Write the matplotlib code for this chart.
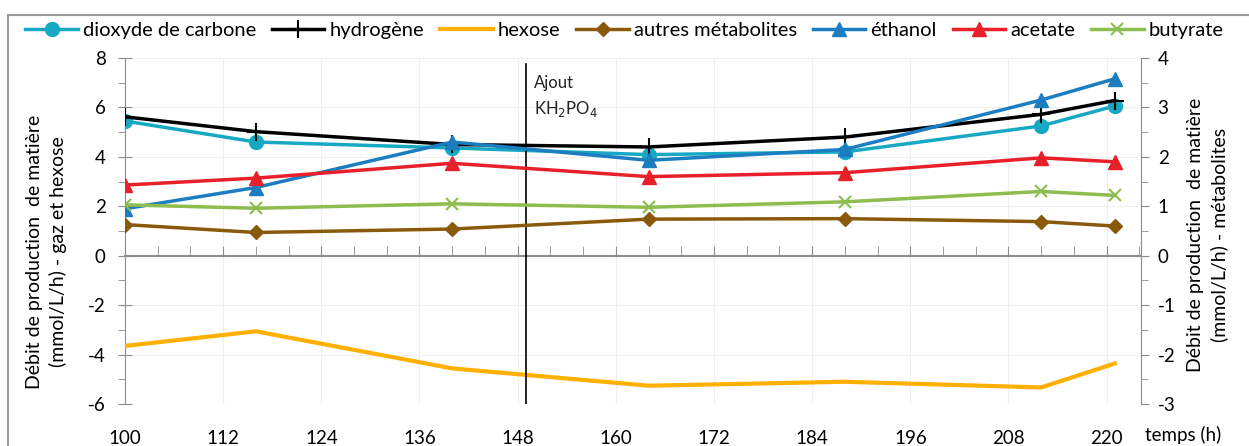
import matplotlib
matplotlib.use("Agg")
import matplotlib.pyplot as plt
from matplotlib.patches import Rectangle
from matplotlib.ticker import MultipleLocator

plt.rcParams['font.family'] = ['Lato', 'DejaVu Sans']

# ---- data ----
temps = [100, 116, 140, 164, 188, 212, 221]
co2 = [5.45, 4.6, 4.36, 4.09, 4.2, 5.25, 6.06]
hydrogene = [5.62, 5.02, 4.5, 4.4, 4.8, 5.72, 6.28]
hexose = [-3.65, -3.06, -4.56, -5.26, -5.1, -5.33, -4.36]
autres = [0.63, 0.47, 0.54, 0.74, 0.75, 0.69, 0.6]
ethanol = [0.95, 1.38, 2.3, 1.93, 2.15, 3.15, 3.58]
acetate = [1.43, 1.57, 1.87, 1.6, 1.68, 1.98, 1.9]
butyrate = [1.03, 0.96, 1.05, 0.98, 1.09, 1.3, 1.22]
ajout_t = 149
x_ticks = [100, 112, 124, 136, 148, 160, 172, 184, 196, 208, 220]

C_CO2 = '#17a8c3'
C_H2 = '#000000'
C_HEX = '#ffb000'
C_AUT = '#8a5a0c'
C_ETH = '#1c7ec1'
C_ACE = '#e8202a'
C_BUT = '#8dbd4f'
GRAY = '#8c8c8c'

fig = plt.figure(figsize=(12.49, 4.46), dpi=100)
ax = fig.add_axes([125/1249, 1-404/446, (1141-125)/1249, (404-58)/446])
ax2 = ax.twinx()

lw = 2.5
l_co2, = ax.plot(temps, co2, color=C_CO2, lw=lw, marker='o', ms=10, label='dioxyde de carbone', zorder=3)
l_h2, = ax.plot(temps, hydrogene, color=C_H2, lw=lw, marker='+', ms=13, mew=1.5, label='hydrogène', zorder=3)
l_hex, = ax.plot(temps, hexose, color=C_HEX, lw=3, label='hexose', zorder=3)
l_aut, = ax2.plot(temps, autres, color=C_AUT, lw=lw, marker='D', ms=7.5, label='autres métabolites')
l_eth, = ax2.plot(temps, ethanol, color=C_ETH, lw=lw, marker='^', ms=10, label='éthanol')
l_ace, = ax2.plot(temps, acetate, color=C_ACE, lw=lw, marker='^', ms=10, label='acetate')
l_but, = ax2.plot(temps, butyrate, color=C_BUT, lw=lw, marker='x', ms=9, mew=1.5, label='butyrate')

ax.set_xlim(100, 224.2)
ax.set_ylim(-6, 8)
ax2.set_ylim(-3, 4)

# vertical marker line
ax.plot([ajout_t, ajout_t], [-6, 7.75], color='black', lw=1.2, zorder=4)
ax.text(ajout_t + 1, 7.3, 'Ajout\nKH$_2$PO$_4$', fontsize=12, va='top', ha='left',
        linespacing=1.5, color='#222222')

# grid
ax.set_yticks(range(-6, 9, 2))
ax.yaxis.set_minor_locator(MultipleLocator(1))
ax2.set_yticks(range(-3, 5, 1))
ax2.yaxis.set_minor_locator(MultipleLocator(0.5))
ax.set_xticks(x_ticks)
ax.xaxis.set_minor_locator(MultipleLocator(4))
ax.grid(True, which='major', color='#efefef', lw=0.8, zorder=0)
ax.set_axisbelow(True)

# spines
for a in (ax, ax2):
    a.spines['top'].set_visible(False)
ax.spines['right'].set_visible(False)
ax2.spines['left'].set_visible(False)
ax2.spines['bottom'].set_visible(False)
ax.spines['left'].set_color(GRAY)
ax2.spines['right'].set_color(GRAY)
ax.spines['bottom'].set_position(('data', 0))
ax.spines['bottom'].set_color(GRAY)
ax.spines['bottom'].set_linewidth(1.5)

ax.tick_params(axis='y', which='major', direction='inout', length=10, color=GRAY, labelsize=13.5, pad=9)
ax.tick_params(axis='y', which='minor', direction='out', length=5, color=GRAY)
ax2.tick_params(axis='y', which='major', direction='out', length=6, color=GRAY, labelsize=13.5, pad=6)
ax2.tick_params(axis='y', which='minor', direction='out', length=5, color=GRAY)
ax.tick_params(axis='x', which='both', direction='in', length=7, color=GRAY, labelbottom=False)
ax.set_yticklabels([str(v) for v in range(-6, 9, 2)])
ax2.set_yticklabels([str(v) for v in range(-3, 5, 1)])

sec = ax.secondary_xaxis(0.0)
sec.set_xticks(x_ticks)
sec.set_xticklabels([str(v) for v in x_ticks])
sec.spines['bottom'].set_visible(False)
sec.tick_params(axis='x', length=0, labelsize=13.5, pad=19)

fig.text(1183/1249, 1-435/446, 'temps (h)', fontsize=13.5, ha='center', va='center')

# y labels
fig.text(35/1249, 1-252/446, 'Débit de production  de matière', rotation=90,
         fontsize=14, ha='center', va='center')
fig.text(58/1249, 1-252/446, '(mmol/L/h) - gaz et hexose', rotation=90,
         fontsize=14, ha='center', va='center')
fig.text(1196/1249, 1-235/446, 'Débit de production  de matière', rotation=90,
         fontsize=14, ha='center', va='center')
fig.text(1219/1249, 1-235/446, '(mmol/L/h) - métabolites', rotation=90,
         fontsize=14, ha='center', va='center')

# legend
handles = [l_co2, l_h2, l_hex, l_aut, l_eth, l_ace, l_but]
fig.legend(handles=handles, labels=[h.get_label() for h in handles], loc='center',
           bbox_to_anchor=(0.5, 1-30/446), ncol=7, frameon=False, fontsize=14.5,
           handlelength=2.6, handletextpad=0.25, columnspacing=0.8, borderaxespad=0)

# outer border
fig.patches.append(Rectangle((8/1249, -0.05), 1.1, 1-15/446+0.05, transform=fig.transFigure,
                             fill=False, edgecolor='#9a9a9a', lw=1.5))

fig.savefig('out.png', dpi=100)
